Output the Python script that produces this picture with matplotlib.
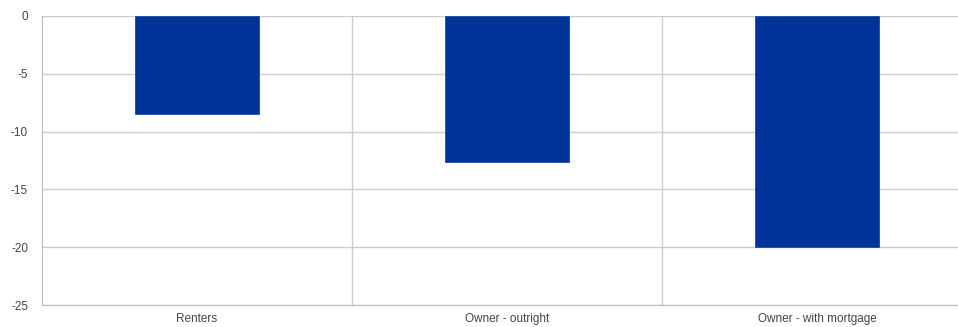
import numpy as np
import matplotlib.pyplot as plt

categories = ["Renters", "Owner - outright", "Owner - with mortgage"]
values = [-8.5, -12.6, -20.0]
yticks = [0, -5, -10, -15, -20, -25]

plt.rcParams['font.family'] = ['Liberation Sans', 'DejaVu Sans']

fig = plt.figure(figsize=(9.58, 3.27), dpi=100)
# right edge runs past the figure, as in the reference crop
ax = fig.add_axes([42/958, 1 - 305/327, 930/958, 289/327])

x = np.arange(len(categories))
ax.bar(x, values, width=0.4, color='#003399', edgecolor='#1f4aa0', linewidth=0.6, zorder=3)

ax.set_xlim(-0.5, len(categories) - 0.5)
ax.set_ylim(-25, 0)
ax.set_yticks(yticks)
ax.set_yticklabels([str(t) for t in yticks])
ax.set_xticks(x)
ax.set_xticklabels(categories)

# horizontal grid at every tick, vertical lines between categories
for t in yticks:
    ax.axhline(t, color='#cccccc', linewidth=1, zorder=1)
for b in x[:-1] + 0.5:
    ax.axvline(b, color='#cccccc', linewidth=1, zorder=1)

for s in ['top', 'right']:
    ax.spines[s].set_visible(False)
ax.spines['left'].set_color('#bbbbbb')
ax.spines['bottom'].set_color('#bbbbbb')
ax.tick_params(length=0, labelsize=8.5, labelcolor='#444444')
ax.tick_params(axis='y', pad=10)
ax.tick_params(axis='x', pad=6)

fig.savefig('out.png', dpi=100)
